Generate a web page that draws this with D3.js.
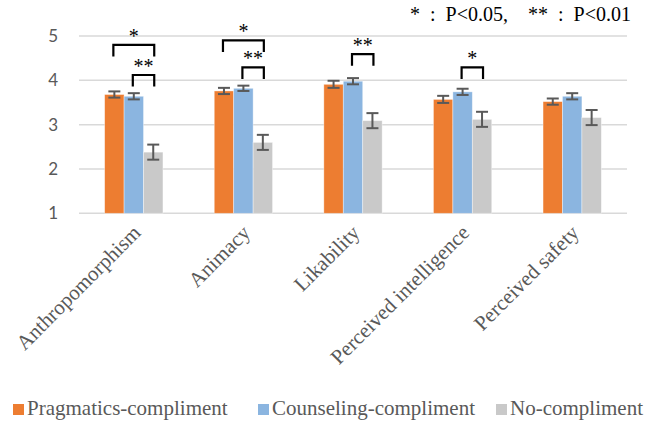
<!DOCTYPE html>
<html>
<head>
<meta charset="utf-8">
<script src="https://cdn.jsdelivr.net/npm/d3@7"></script>
<style>
  body { margin: 0; background: #fff; }
  svg { display: block; }
</style>
</head>
<body>
<div id="chart"></div>
<script>
// data
let categories = ["Anthropomorphism", "Animacy", "Likability", "Perceived intelligence", "Perceived safety"];
let seriesNames = ["Pragmatics-compliment", "Counseling-compliment", "No-compliment"];
let pragmatics = [3.68, 3.76, 3.91, 3.57, 3.52];
let counseling = [3.64, 3.82, 3.98, 3.74, 3.64];
let noCompliment = [2.38, 2.60, 3.09, 3.12, 3.16];
let pragmaticsErr = [0.07, 0.07, 0.08, 0.08, 0.07];
let counselingErr = [0.07, 0.06, 0.07, 0.07, 0.07];
let noComplimentErr = [0.17, 0.17, 0.17, 0.17, 0.17];
let yTicks = [1, 2, 3, 4, 5];
// significance brackets: category, from series, to series, label, bracket level
let brackets = [
    {cat: "Anthropomorphism", from: 0, to: 2, label: "*", level: 4.80},
    {cat: "Anthropomorphism", from: 1, to: 2, label: "**", level: 4.12},
    {cat: "Animacy", from: 0, to: 2, label: "*", level: 4.90},
    {cat: "Animacy", from: 1, to: 2, label: "**", level: 4.29},
    {cat: "Likability", from: 1, to: 2, label: "**", level: 4.59},
    {cat: "Perceived intelligence", from: 1, to: 2, label: "*", level: 4.29}
];
let noteText = "*  :  P<0.05,    **  :  P<0.01";

let colors = ["#ED7D31", "#8BB5E0", "#C9C9C9"];

let width = 646, height = 424;
let svg = d3.select("#chart").append("svg")
    .attr("width", width)
    .attr("height", height);

let x0 = d3.scaleBand().domain(categories).range([79, 627]).padding(0);
let bw = x0.bandwidth();
let x1 = d3.scaleBand().domain(d3.range(3)).range([bw * 0.234, bw * 0.766]).padding(0);
let y = d3.scaleLinear().domain([1, 5]).range([213.3, 36]);

let values = [pragmatics, counseling, noCompliment];
let errs = [pragmaticsErr, counselingErr, noComplimentErr];

// gridlines
svg.append("g").selectAll("line")
    .data(yTicks)
    .enter().append("line")
    .attr("x1", 79).attr("x2", 627)
    .attr("y1", d => y(d)).attr("y2", d => y(d))
    .attr("stroke", "#D9D9D9")
    .attr("stroke-width", 1.5);

// y axis labels
let yAxis = svg.append("g")
    .attr("transform", "translate(79,0)")
    .call(d3.axisLeft(y).tickValues(yTicks).tickSize(0).tickPadding(21).tickFormat(d3.format("d")));
yAxis.select(".domain").remove();
yAxis.selectAll("text")
    .style("font-family", "Lato, 'Open Sans', sans-serif")
    .style("font-size", "17px")
    .attr("fill", "#595959");

// bars
let rows = [];
categories.forEach((c, i) => {
    for (let s = 0; s < 3; s++) {
        rows.push({cat: c, s: s, v: values[s][i], e: errs[s][i]});
    }
});

svg.append("g").selectAll("rect")
    .data(rows)
    .enter().append("rect")
    .attr("x", d => x0(d.cat) + x1(d.s))
    .attr("y", d => y(d.v))
    .attr("width", x1.bandwidth())
    .attr("height", d => y(1) - y(d.v))
    .attr("fill", d => colors[d.s])
    .attr("stroke", "#fff")
    .attr("stroke-opacity", 0.5)
    .attr("stroke-width", 0.75);

// error bars
let eb = svg.append("g").attr("stroke", "#595959").attr("stroke-width", 2);
rows.forEach(d => {
    let cx = x0(d.cat) + x1(d.s) + x1.bandwidth() / 2;
    eb.append("line").attr("x1", cx).attr("x2", cx).attr("y1", y(d.v + d.e)).attr("y2", y(d.v - d.e));
    eb.append("line").attr("x1", cx - 6).attr("x2", cx + 6).attr("y1", y(d.v + d.e)).attr("y2", y(d.v + d.e));
    eb.append("line").attr("x1", cx - 6).attr("x2", cx + 6).attr("y1", y(d.v - d.e)).attr("y2", y(d.v - d.e));
});

// significance brackets
let sig = svg.append("g");
brackets.forEach(b => {
    let xa = x0(b.cat) + x1(b.from) + x1.bandwidth() / 2 - 1;
    let xb = x0(b.cat) + x1(b.to) + x1.bandwidth() / 2 + 1;
    let yt = y(b.level);
    let yl = y(b.level - 0.26);
    sig.append("path")
        .attr("d", `M${xa},${yl}V${yt}H${xb}V${yl}`)
        .attr("fill", "none")
        .attr("stroke", "#000")
        .attr("stroke-width", 2.2);
    sig.append("text")
        .attr("x", (xa + xb) / 2)
        .attr("y", yt - 2)
        .attr("text-anchor", "middle")
        .style("font-family", "'Liberation Serif', 'Times New Roman', serif")
        .style("font-size", "20px")
        .attr("fill", "#000")
        .text(b.label);
});

// category labels
svg.append("g").selectAll("text")
    .data(categories)
    .enter().append("text")
    .attr("transform", d => `translate(${x0(d) + bw / 2 + 8},${234}) rotate(-45)`)
    .attr("text-anchor", "end")
    .style("font-family", "'Liberation Serif', 'Times New Roman', serif")
    .style("font-size", "21px")
    .attr("fill", "#595959")
    .text(d => d);

// significance note
svg.append("text")
    .attr("x", 410)
    .attr("y", 21)
    .style("white-space", "pre")
    .style("font-family", "'Liberation Serif', 'Times New Roman', serif")
    .style("font-size", "20px")
    .attr("fill", "#000")
    .text(noteText);

// legend
let legendX = [13, 258, 496];
let legend = svg.append("g").selectAll("g")
    .data(seriesNames)
    .enter().append("g")
    .attr("transform", (d, i) => `translate(${legendX[i]},404)`);
legend.append("rect")
    .attr("width", 11).attr("height", 11)
    .attr("fill", (d, i) => colors[i]);
legend.append("text")
    .attr("x", 14)
    .attr("y", 11)
    .style("font-family", "'Liberation Serif', 'Times New Roman', serif")
    .style("font-size", "21px")
    .attr("fill", "#595959")
    .text(d => d);
</script>
</body>
</html>
